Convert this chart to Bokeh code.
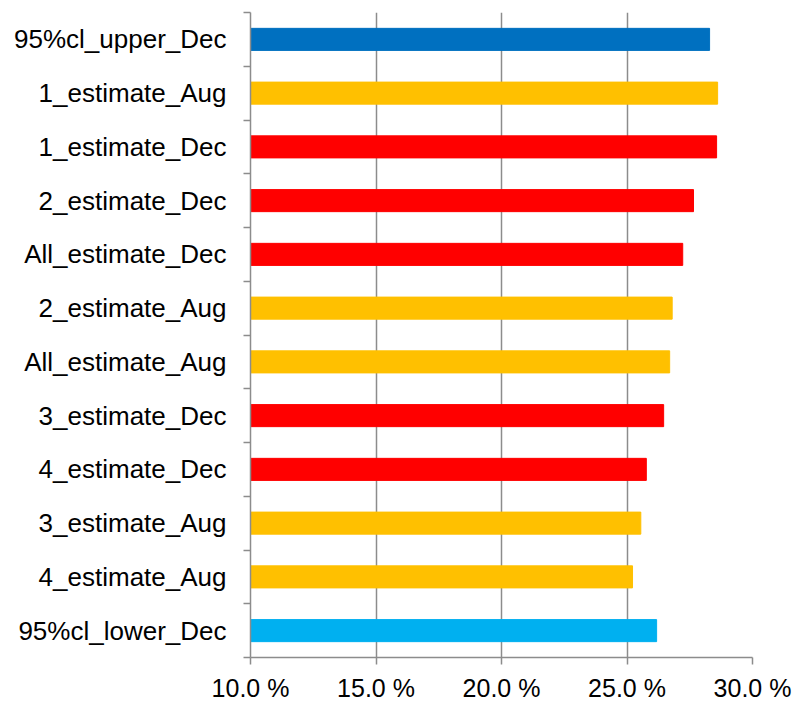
from bokeh.plotting import figure
from bokeh.models import ColumnDataSource, FixedTicker, Range1d, CustomJSTickFormatter
from bokeh.embed import file_html
from bokeh.resources import INLINE

# top to bottom
categories = ["95%cl_upper_Dec", "1_estimate_Aug", "1_estimate_Dec", "2_estimate_Dec",
              "All_estimate_Dec", "2_estimate_Aug", "All_estimate_Aug", "3_estimate_Dec",
              "4_estimate_Dec", "3_estimate_Aug", "4_estimate_Aug", "95%cl_lower_Dec"]
values = [28.29, 28.61, 28.57, 27.65, 27.22, 26.80, 26.70, 26.46, 25.77, 25.55, 25.22, 26.18]
colors = ["#0070C0", "#FFC000", "#FF0000", "#FF0000", "#FF0000", "#FFC000", "#FFC000",
          "#FF0000", "#FF0000", "#FFC000", "#FFC000", "#00B0F0"]
x_ticks = [10, 15, 20, 25, 30]

n = len(categories)
ypos = [n - i - 0.5 for i in range(n)]

src = ColumnDataSource(dict(y=ypos, right=values, color=colors, cat=categories))

p = figure(width=798, height=704, output_backend="svg", toolbar_location=None,
           x_range=Range1d(10, 30), y_range=Range1d(0, n),
           min_border_left=250, min_border_right=46, min_border_top=12, min_border_bottom=44)
p.outline_line_color = None
p.background_fill_color = "white"
p.border_fill_color = "white"

p.hbar(y="y", left=10, right="right", height=0.41, color="color", source=src)

# x axis
p.xaxis.ticker = FixedTicker(ticks=x_ticks)
p.xaxis.formatter = CustomJSTickFormatter(code="return tick.toFixed(1) + ' %';")
p.xaxis.axis_line_color = "#8c8c8c"
p.xaxis.axis_line_width = 1.5
p.xaxis.major_tick_line_color = "#8c8c8c"
p.xaxis.major_tick_line_width = 1.5
p.xaxis.major_tick_out = 7
p.xaxis.major_tick_in = 0
p.xaxis.minor_tick_line_color = None
p.xaxis.major_label_text_font = "Liberation Sans"
p.xaxis.major_label_text_font_size = "25px"
p.xaxis.major_label_text_color = "#000000"
p.xaxis.major_label_standoff = 9

# y axis
p.yaxis.ticker = FixedTicker(ticks=ypos, minor_ticks=list(range(n + 1)))
p.yaxis.major_label_overrides = {y: c for y, c in zip(ypos, categories)}
p.yaxis.axis_line_color = "#8c8c8c"
p.yaxis.axis_line_width = 1.5
p.yaxis.major_tick_line_color = None
p.yaxis.major_tick_out = 6
p.yaxis.minor_tick_line_color = "#8c8c8c"
p.yaxis.minor_tick_line_width = 1.5
p.yaxis.minor_tick_out = 7
p.yaxis.minor_tick_in = 0
p.yaxis.major_label_text_font = "Liberation Sans"
p.yaxis.major_label_text_font_size = "26px"
p.yaxis.major_label_text_color = "#000000"
p.yaxis.major_label_standoff = 17

p.xgrid.ticker = FixedTicker(ticks=x_ticks)
p.xgrid.grid_line_color = "#8c8c8c"
p.xgrid.grid_line_width = 1.5
p.ygrid.grid_line_color = None

open("out.html", "w").write(file_html(p, INLINE))
